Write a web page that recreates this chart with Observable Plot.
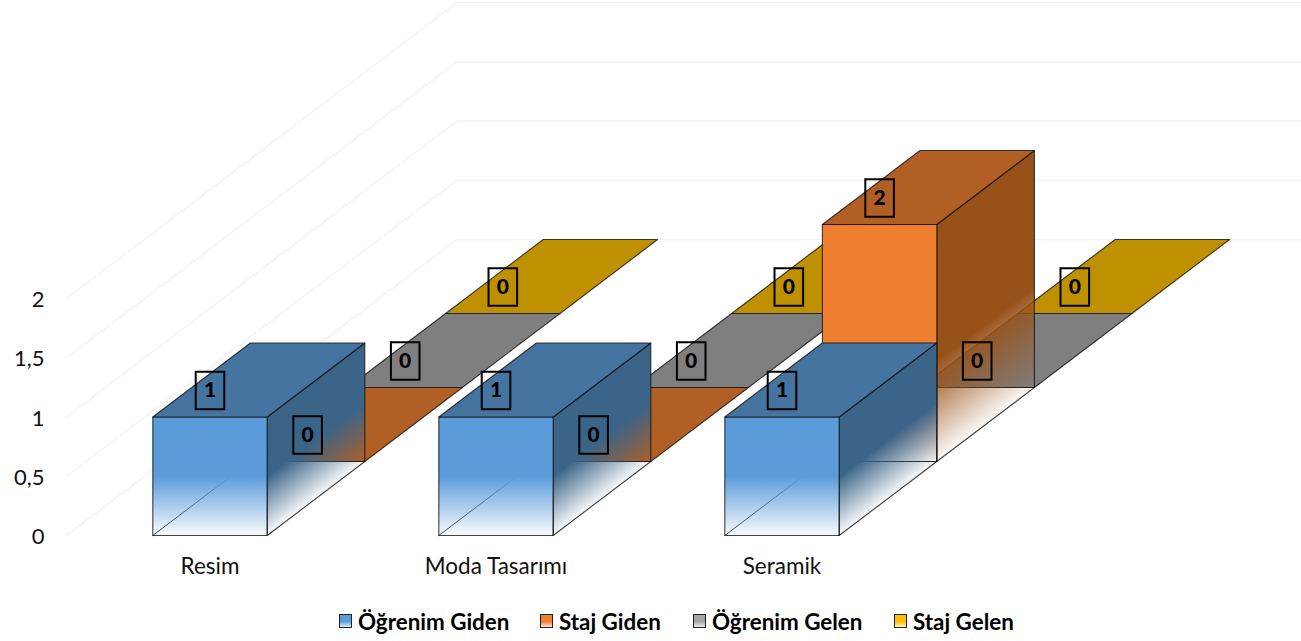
<!DOCTYPE html>
<html lang="tr">
<head>
<meta charset="utf-8">
<script src="https://cdn.jsdelivr.net/npm/d3@7"></script>
<script src="https://cdn.jsdelivr.net/npm/@observablehq/plot@0.6"></script>
<style>
html,body{margin:0;padding:0;background:#fff;overflow:hidden}
#legend{display:flex;align-items:center;height:41px;padding-left:339px;padding-top:1px;box-sizing:border-box;font:700 22.4px Lato,sans-serif;color:#000}
#legend span.sw{display:inline-block;width:13px;height:14px;border:1.4px solid #222;box-sizing:border-box;margin-right:6px}
#legend div{position:absolute;display:flex;align-items:center;white-space:nowrap}
svg{display:block}
</style>
</head>
<body>
<div id="chart"></div>
<div id="legend"></div>
<script>
const categories = ["Resim", "Moda Tasarımı", "Seramik"];
const seriesNames = ["Öğrenim Giden", "Staj Giden", "Öğrenim Gelen", "Staj Gelen"];
const ogrenimGiden = [1, 1, 1];
const stajGiden = [0, 0, 2];
const ogrenimGelen = [0, 0, 0];
const stajGelen = [0, 0, 0];
const seriesValues = [ogrenimGiden, stajGiden, ogrenimGelen, stajGelen];
const yTicks = [0, 0.5, 1, 1.5, 2];
const frontColors = ["#5B9BD9", "#F17F30", "#A5A5A5", "#FFC000"];
const topColors = ["#44749F", "#B25F25", "#7F7F7F", "#BF9000"];
const sideColors = ["#3A6488", "#985219", "#6B6B6B", "#A07800"];
const legendLefts = [339, 540, 693, 894];

// oblique projection, in data units: one category step across, one value unit up
const halfBar = 0.2, depthX = 97.6 / 286, depthY = 74 / 118.5, wallX = -0.5017;
const fadeTop = {1: 0.5, 2: 0.85};
const edge = "#111";

const P = (c, across, s, depth, v) => ({x: c + across * halfBar + (s + depth) * depthX, y: v + (s + depth) * depthY});

const marks = [];
const gradients = [];

// walls
for (const t of yTicks) {
  marks.push(Plot.line([
    {x: wallX, y: t},
    {x: wallX + 4 * depthX, y: t + 4 * depthY},
    {x: 3.8164, y: t + 4 * depthY}
  ], {x: "x", y: "y", stroke: "#f2f2f2", strokeWidth: 1.3}));
}

const face = (pts, fill, sw = 1.1) => marks.push(Plot.line([...pts, pts[0]], {x: "x", y: "y", fill, stroke: edge, strokeWidth: sw, strokeOpacity: 0.8}));

for (let s = 3; s >= 0; --s) {
  categories.forEach((_, c) => {
    const v = seriesValues[s][c];
    const fl = P(c, -1, s, 0, 0), fr = P(c, 1, s, 0, 0), bl = P(c, -1, s, 1, 0), br = P(c, 1, s, 1, 0);
    const tfl = P(c, -1, s, 0, v), tfr = P(c, 1, s, 0, v), tbl = P(c, -1, s, 1, v), tbr = P(c, 1, s, 1, v);
    if (v > 0) {
      // hidden edges seen through the faded lower part
      marks.push(Plot.line([fl, bl, br], {x: "x", y: "y", stroke: edge, strokeWidth: 1, strokeOpacity: 0.8}));
      const idS = `side-${s}-${c}`, idF = `front-${s}-${c}`;
      gradients.push({id: idS, kind: "side", color: sideColors[s], fr, v: fadeTop[v]});
      gradients.push({id: idF, kind: "front", color: frontColors[s], fl, v: fadeTop[v]});
      face([fr, br, tbr, tfr], `url(#${idS})`);
      face([fl, fr, tfr, tfl], `url(#${idF})`);
    }
    face([tfl, tfr, tbr, tbl], topColors[s]);
  });
}

// data labels
const labels = [];
seriesValues.forEach((vals, s) => vals.forEach((v, c) => labels.push({x: c + s * depthX, y: v + s * depthY, v})));
const boxSymbol = {draw(ctx) { ctx.rect(-14.3, -18.8, 28.6, 37.6); }};
marks.push(Plot.dot(labels, {x: "x", y: "y", symbol: boxSymbol, dy: -26.5, r: 5, fill: "none", stroke: "#000", strokeWidth: 2}));
marks.push(Plot.text(labels, {x: "x", y: "y", text: "v", dy: -26.5, fontFamily: "Lato", fontWeight: 900, fontSize: 21, fill: "#000"}));

marks.push(Plot.axisY(yTicks, {anchor: "left", tickSize: 0, tickPadding: 0, dy: 1.5, tickFormat: d => String(d).replace(".", ","), fontSize: 22, label: null, color: "#111"}));
marks.push(Plot.axisX([0, 1, 2], {anchor: "bottom", tickSize: 0, tickPadding: 23, tickFormat: i => categories[i], fontSize: 22.5, label: null, color: "#111"}));

const plot = Plot.plot({
  width: 1301, height: 600,
  marginLeft: 44, marginRight: 0, marginTop: 2, marginBottom: 65,
  style: {background: "transparent", fontFamily: "Lato", fontSize: "20px", overflow: "visible"},
  x: {domain: [-0.5787, 3.8164]},
  y: {domain: [0, 533 / 118.5]},
  marks
});

// gradients in screen space, from the plot's scales
const sx = plot.scale("x"), sy = plot.scale("y");
const NS = "http://www.w3.org/2000/svg";
const defs = document.createElementNS(NS, "defs");
const fadeStops = [[0, 1], [0.08, 0.92], [1, 0.04]];
for (const g of gradients) {
  const el = document.createElementNS(NS, "linearGradient");
  el.setAttribute("id", g.id);
  el.setAttribute("gradientUnits", "userSpaceOnUse");
  if (g.kind === "front") {
    const x = sx.apply(g.fl.x);
    el.setAttribute("x1", x); el.setAttribute("x2", x);
    el.setAttribute("y1", sy.apply(g.fl.y + g.v)); el.setAttribute("y2", sy.apply(g.fl.y));
  } else {
    // isolines run along the depth direction of the side face
    const ax = sx.apply(g.fr.x), ay = sy.apply(g.fr.y), by = sy.apply(g.fr.y + g.v);
    const dx = sx.apply(g.fr.x + depthX) - ax, dy = sy.apply(g.fr.y + depthY) - ay;
    const len = Math.hypot(dx, dy), nx = -dy / len, ny = dx / len;
    const t = (by - ay) * ny;
    el.setAttribute("x1", ax + nx * t); el.setAttribute("y1", ay + ny * t);
    el.setAttribute("x2", ax); el.setAttribute("y2", ay);
  }
  for (const [o, a] of fadeStops) {
    const st = document.createElementNS(NS, "stop");
    st.setAttribute("offset", o);
    st.setAttribute("stop-color", g.color);
    st.setAttribute("stop-opacity", a);
    el.appendChild(st);
  }
  defs.appendChild(el);
}
plot.insertBefore(defs, plot.firstChild);
document.getElementById("chart").appendChild(plot);

// legend
const legend = document.getElementById("legend");
seriesNames.forEach((name, i) => {
  const d = document.createElement("div");
  d.style.left = legendLefts[i] + "px";
  const sw = document.createElement("span");
  sw.className = "sw";
  sw.style.background = `linear-gradient(${frontColors[i]} 55%, #fff 110%)`;
  d.appendChild(sw);
  d.appendChild(document.createTextNode(name));
  legend.appendChild(d);
});
</script>
</body>
</html>
